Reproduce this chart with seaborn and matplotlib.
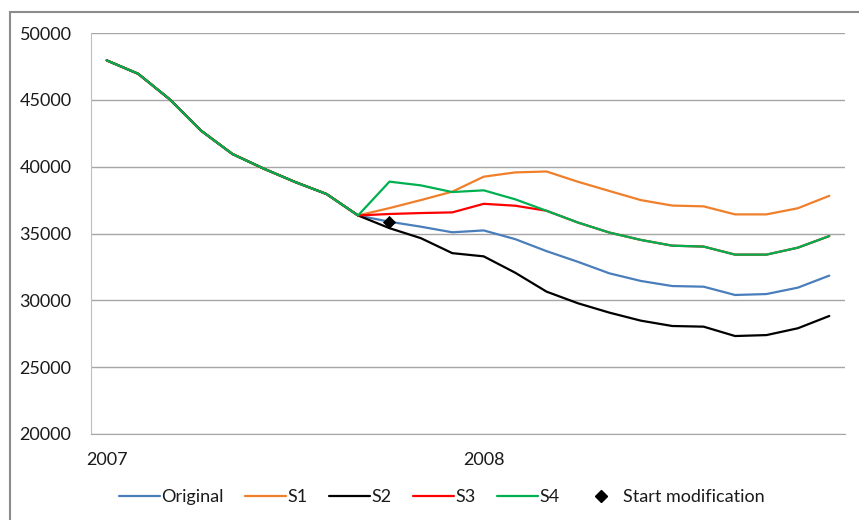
import pandas as pd
import numpy as np
import matplotlib
matplotlib.use("Agg")
import matplotlib.pyplot as plt
from matplotlib.lines import Line2D
from matplotlib.patches import Rectangle
import seaborn as sns

# --------------- data (24 months, Jan 2007 - Dec 2008) ---------------
months = list(range(24))
year_labels = ["2007", "2008"]
year_pos = [0, 12]

original = [47950, 46950, 45050, 42700, 40950, 39850, 38850, 37950, 36350,
            35880, 35510, 35090, 35230, 34580, 33680, 32880, 32020, 31450,
            31070, 31020, 30400, 30470, 30950, 31850]
s1 = [47950, 46950, 45050, 42700, 40950, 39850, 38850, 37950, 36350,
      36900, 37500, 38130, 39250, 39570, 39640, 38870, 38180, 37500,
      37090, 37030, 36430, 36430, 36890, 37820]
s2 = [47950, 46950, 45050, 42700, 40950, 39850, 38850, 37950, 36350,
      35400, 34650, 33530, 33290, 32070, 30650, 29780, 29080, 28480,
      28080, 28030, 27330, 27400, 27910, 28830]
s3 = [47950, 46950, 45050, 42700, 40950, 39850, 38850, 37950, 36350,
      36460, 36530, 36580, 37220, 37080, 36700, 35820, 35070, 34520,
      34090, 34020, 33420, 33420, 33940, 34810]
s4 = [47950, 46950, 45050, 42700, 40950, 39850, 38850, 37950, 36350,
      38880, 38600, 38100, 38230, 37560, 36700, 35820, 35070, 34520,
      34090, 34020, 33420, 33420, 33940, 34810]

series_names = ["Original", "S1", "S2", "S3", "S4"]
series_colors = ["#4a7ebb", "#f07f2a", "#000000", "#ff0000", "#00b050"]

start_month = [9]
start_value = [35860]

# build long-form table for seaborn
df = pd.concat([
    pd.DataFrame({"month": months, "value": vals, "series": name})
    for name, vals in zip(series_names, [original, s1, s2, s3, s4])
])

# --------------- plot ---------------
sns.set_style("white")
plt.rcParams["font.family"] = ["Lato", "DejaVu Sans"]
text_color = "#1a1a1a"

fig = plt.figure(figsize=(8.59, 5.2), dpi=100)
ax = fig.add_axes([91 / 859, 1 - 434 / 520, 754 / 859, 401 / 520])

sns.lineplot(data=df, x="month", y="value", hue="series", hue_order=series_names,
             palette=series_colors, linewidth=1.6, errorbar=None, legend=False,
             ax=ax, zorder=3)
sns.scatterplot(x=start_month, y=start_value, marker="D", color="black", s=45,
                edgecolor="black", linewidth=0, ax=ax, zorder=5)

ax.set_xlim(-0.5, 23.5)
ax.set_ylim(20000, 50000)
ax.set_yticks(np.arange(20000, 50001, 5000))
ax.yaxis.grid(True, color="#a6a6a6", linewidth=1)
ax.set_axisbelow(True)

# quarter boundaries as major ticks, year labels as minor ticks
ax.set_xticks(np.arange(-0.5, 24, 3))
ax.set_xticklabels([])
ax.set_xticks(year_pos, minor=True)
ax.set_xticklabels(year_labels, minor=True)
ax.tick_params(axis="x", which="major", length=5, width=1, color="#a6a6a6", direction="out")
ax.tick_params(axis="x", which="minor", length=0, pad=13, labelsize=13, labelcolor=text_color)
ax.tick_params(axis="y", length=4, width=1, color="#a6a6a6", direction="out",
               pad=10, labelsize=13, labelcolor=text_color)
ax.set_xlabel("")
ax.set_ylabel("")

for side in ["top", "right"]:
    ax.spines[side].set_visible(False)
ax.spines["left"].set_color("#bfbfbf")
ax.spines["bottom"].set_color("#a6a6a6")

handles = [Line2D([], [], color=c, linewidth=1.6) for c in series_colors]
handles.append(Line2D([], [], color="black", marker="D", linestyle="", markersize=6))
labels = series_names + ["Start modification"]
fig.legend(handles, labels, loc="center", bbox_to_anchor=(442 / 859, 1 - 497 / 520),
           ncol=6, frameon=False, fontsize=13, handlelength=2.25, handletextpad=0.08,
           columnspacing=1.2, borderpad=0, labelcolor=text_color)

# outer chart border (left and top edges visible in the crop)
fig.add_artist(Rectangle((10 / 859, -0.5), 2, 0.5 + (1 - 12 / 520), transform=fig.transFigure,
                         fill=False, edgecolor="#8c8c8c", linewidth=1.5))

fig.savefig("out.png", dpi=100)
